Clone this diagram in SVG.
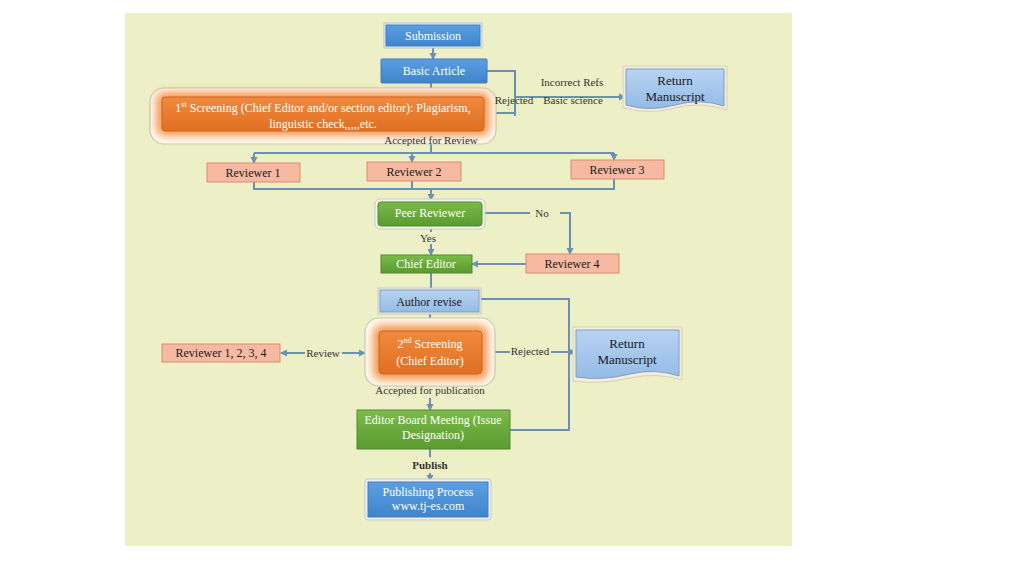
<svg xmlns="http://www.w3.org/2000/svg" width="1024" height="576" viewBox="0 0 1024 576">
<defs>
<style>
text{font-family:"Liberation Serif","Times New Roman",serif;font-size:12px;text-anchor:middle;dominant-baseline:central}
.w{fill:#ffffff}
.d{fill:#1a1a1a}
.rm{font-size:13px}
.l{fill:#333333;font-size:11px}
.blue{fill:url(#gBlue);stroke:#3d7cc0;stroke-width:1}
.lblue{fill:url(#gLBlue);stroke:#7f9ec6;stroke-width:1}
.sal{fill:#f7b9a1;stroke:#d98c6c;stroke-width:1}
.grn{fill:url(#gGrn);stroke:#4f8a2c;stroke-width:1}
.org{fill:url(#gOrg);stroke:#d0651e;stroke-width:1}
.halo{fill:#fffaf2;stroke:#c9c9b4;stroke-width:1.2}
.c{fill:none;stroke:#6c8fb3;stroke-width:2}
</style>
<linearGradient id="gBlue" x1="0" y1="0" x2="0" y2="1"><stop offset="0" stop-color="#5b9fe0"/><stop offset="1" stop-color="#3f84cc"/></linearGradient>
<linearGradient id="gLBlue" x1="0" y1="0" x2="0" y2="1"><stop offset="0" stop-color="#b7d3f2"/><stop offset="1" stop-color="#94bbe6"/></linearGradient>
<linearGradient id="gGrn" x1="0" y1="0" x2="0" y2="1"><stop offset="0" stop-color="#7bbb4a"/><stop offset="1" stop-color="#5a9a30"/></linearGradient>
<linearGradient id="gOrg" x1="0" y1="0" x2="0" y2="1"><stop offset="0" stop-color="#f08a3e"/><stop offset="1" stop-color="#e06f22"/></linearGradient>
<filter id="glow" x="-20%" y="-40%" width="140%" height="180%"><feGaussianBlur stdDeviation="4"/></filter>
<marker id="ah" markerWidth="8" markerHeight="8" refX="6" refY="4" orient="auto" markerUnits="userSpaceOnUse"><path d="M0,0.5 L7,4 L0,7.5 Z" fill="#6c8fb3"/></marker>
</defs>
<rect width="1024" height="576" fill="#ffffff"/>
<rect x="125" y="13" width="667" height="533" fill="#edf0c6"/>

<g id="connectors">
<path class="c" d="M433,46 V59" marker-end="url(#ah)"/>
<path class="c" d="M431,83 V97"/>
<path class="c" d="M487,71 H515 V116 M484,113 H515"/>
<path class="c" d="M515,97 H625" marker-end="url(#ah)"/>
<path class="c" d="M431,131 V153"/>
<path class="c" d="M254,153 H614"/>
<path class="c" d="M254,153 V163" marker-end="url(#ah)"/>
<path class="c" d="M412,153 V162" marker-end="url(#ah)"/>
<path class="c" d="M614,153 V160" marker-end="url(#ah)"/>
<path class="c" d="M254,182 V189 H614 V179 M412,181 V189"/>
<path class="c" d="M431,189 V200" marker-end="url(#ah)"/>
<path class="c" d="M485,213 H530"/>
<path class="c" d="M560,213 H570 V254" marker-end="url(#ah)"/>
<path class="c" d="M431,228 V232 M431,244 V255" marker-end="url(#ah)"/>
<path class="c" d="M526,264 H472" marker-end="url(#ah)"/>
<path class="c" d="M431,272 V290"/>
<path class="c" d="M479,299 H569 V430 H510"/>
<path class="c" d="M430,312 V331"/>
<path class="c" d="M305,353 H281" marker-end="url(#ah)"/>
<path class="c" d="M342,353 H365" marker-end="url(#ah)"/>
<path class="c" d="M495,352 H510 M551,352 H575" marker-end="url(#ah)"/>
<path class="c" d="M430,374 V382 M430,398 V410" marker-end="url(#ah)"/>
<path class="c" d="M430,449 V457 M430,473 V481" marker-end="url(#ah)"/>
</g>

<g id="n-submission">
<rect x="384" y="23" width="98" height="25" fill="#e8eef4" stroke="#b8c4d0"/>
<rect class="blue" x="386" y="25" width="94" height="21"/>
<text class="w" x="433" y="35.5">Submission</text>
</g>

<g id="n-basic">
<rect class="blue" x="381" y="59" width="106" height="24" rx="1"/>
<text class="w" x="434" y="70.5">Basic Article</text>
</g>

<g id="n-screen1">
<rect class="halo" x="150" y="88" width="346" height="56" rx="14"/>
<rect x="156" y="92" width="334" height="44" rx="8" fill="#f39a55" filter="url(#glow)"/>
<rect class="org" x="162" y="97" width="322" height="34" rx="3"/>
<text class="w" x="323" y="107.5"><tspan>1</tspan><tspan font-size="8" dy="-4">st</tspan><tspan dy="4"> Screening (Chief Editor and/or section editor): Plagiarism,</tspan></text>
<text class="w" x="323" y="123.5">linguistic check,,,,,etc.</text>
</g>

<g id="n-labels-top">
<text class="l" x="514" y="100">Rejected</text>
<text class="l" x="572" y="82">Incorrect Refs</text>
<text class="l" x="573" y="100">Basic science</text>
<text class="l" x="431" y="140">Accepted for Review</text>
</g>

<g id="n-return1">
<path d="M623,66 H727 V110 Q700,101 675,108 Q650,115 623,108 Z" fill="#f3ecd8" stroke="#d8cfb8"/>
<path class="lblue" d="M626,69 H724 V106 Q700,98 675,105 Q650,112 626,105 Z"/>
<text class="d rm" x="675" y="80">Return</text>
<text class="d rm" x="675" y="96">Manuscript</text>
</g>

<g id="n-rev1">
<rect class="sal" x="207" y="163" width="93" height="19"/>
<text class="d" x="253" y="172.5">Reviewer 1</text>
</g>
<g id="n-rev2">
<rect class="sal" x="367" y="162" width="94" height="19"/>
<text class="d" x="414" y="171.5">Reviewer 2</text>
</g>
<g id="n-rev3">
<rect class="sal" x="571" y="160" width="93" height="19"/>
<text class="d" x="617" y="169.5">Reviewer 3</text>
</g>

<g id="n-peer">
<rect x="375" y="199" width="110" height="30" rx="5" fill="#f4f4ec" stroke="#c8ccc0"/>
<rect class="grn" x="378" y="202" width="104" height="24" rx="3"/>
<text class="w" x="430" y="212.5">Peer Reviewer</text>
</g>

<g id="n-labels-mid">
<text class="l" x="542" y="213">No</text>
<text class="l" x="428" y="238">Yes</text>
</g>

<g id="n-chief">
<rect class="grn" x="381" y="255" width="91" height="18"/>
<text class="w" x="426" y="264">Chief Editor</text>
</g>

<g id="n-rev4">
<rect class="sal" x="526" y="254" width="93" height="19"/>
<text class="d" x="572" y="263.5">Reviewer 4</text>
</g>

<g id="n-author">
<rect x="378" y="288" width="103" height="26" fill="#efeee0" stroke="#c8c8b8"/>
<rect class="lblue" x="380" y="290" width="99" height="22"/>
<text class="d" x="429" y="301.5">Author revise</text>
</g>

<g id="n-screen2">
<rect class="halo" x="365" y="318" width="130" height="68" rx="14"/>
<rect x="373" y="325" width="115" height="55" rx="8" fill="#f39a55" filter="url(#glow)"/>
<rect class="org" x="379" y="331" width="103" height="43" rx="4"/>
<text class="w" x="430" y="344"><tspan>2</tspan><tspan font-size="8" dy="-4">nd</tspan><tspan dy="4"> Screening</tspan></text>
<text class="w" x="430" y="361">(Chief Editor)</text>
</g>

<g id="n-rev1234">
<rect class="sal" x="162" y="344" width="118" height="18"/>
<text class="d" x="221" y="353">Reviewer 1, 2, 3, 4</text>
</g>

<g id="n-labels-low">
<text class="l" x="323" y="353">Review</text>
<text class="l" x="530" y="351">Rejected</text>
<text class="l" x="430" y="390">Accepted for publication</text>
<text class="l" x="430" y="465" font-weight="bold">Publish</text>
</g>

<g id="n-return2">
<path d="M573,327 H682 V380 Q656,372 630,378 Q600,385 573,381 Z" fill="#f3ecd8" stroke="#d8cfb8"/>
<path class="lblue" d="M576,330 H679 V376 Q655,368 630,374 Q602,381 576,377 Z"/>
<text class="d rm" x="627" y="343">Return</text>
<text class="d rm" x="627" y="359">Manuscript</text>
</g>

<g id="n-board">
<rect class="grn" x="357" y="410" width="153" height="39"/>
<text class="w" x="433" y="420">Editor Board Meeting (Issue</text>
<text class="w" x="433" y="435">Designation)</text>
</g>

<g id="n-publish">
<rect x="365" y="479" width="126" height="41" rx="3" fill="#eef0f4" stroke="#c0c8d0"/>
<rect class="blue" x="368" y="482" width="120" height="35"/>
<text class="w" x="428" y="492">Publishing Process</text>
<text class="w" x="428" y="506">www.tj-es.com</text>
</g>
</svg>
